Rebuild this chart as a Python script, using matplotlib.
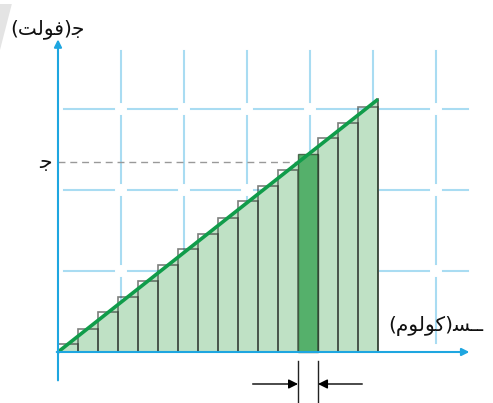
import matplotlib
matplotlib.use("Agg")
import matplotlib.pyplot as plt
from matplotlib.patches import Rectangle, Polygon

plt.rcParams['font.family'] = ['DejaVu Sans']

# --- data (grid units: 1 x-unit = one grid column, 1 y-unit = one grid row) ---
grid_q = [1, 2, 3, 4, 5, 6]
grid_v = [1, 2, 3]
bar_width = 0.3175
bar_heights = [0.10, 0.29, 0.49, 0.68, 0.88, 1.07, 1.27, 1.46,
               1.66, 1.86, 2.05, 2.25, 2.44, 2.64, 2.83, 3.03]
highlight_bar = 12
line_q = [0.0, 5.08]
line_v = [0.0, 3.12]
dashed_v = 2.34

y_label = "(ﺖﻟﻮﻓ)ﺟ"
x_label = "(ﻡﻮﻟﻮﻛ)ﺴــ"
v_tick = "ﺟ"

axis_blue = "#1ea6e0"
grid_blue = "#a9dcf2"
light_green = "#bfe1c5"
dark_green = "#55b06b"
line_green = "#109c4a"
edge_col = (0.15, 0.17, 0.15, 0.6)

fig = plt.figure(figsize=(4.93, 4.03), dpi=100)
ax = fig.add_axes([0, 0, 1, 1])
ax.set_xlim(-0.9206, 6.905)
ax.set_ylim(-0.6296, 4.3457)
ax.axis('off')

# faint grey corner mark
fig.patches.append(Polygon([(0, 0.99), (0.024, 0.99), (0, 0.876)], closed=True,
                           transform=fig.transFigure, facecolor="#e4e4e4",
                           edgecolor='none'))

# broken grid lines
gx, gy = 0.115, 0.088
for v in grid_v:
    starts = [0.095] + [q + gx for q in grid_q]
    ends = [q - gx for q in grid_q] + [6.51]
    for a, b in zip(starts, ends):
        ax.plot([a, b], [v, v], color=grid_blue, lw=1.5, zorder=1)
for q in grid_q:
    edges = [0.11] + grid_v + [3.716]
    for i in range(len(edges) - 1):
        a = edges[i] + (gy if i > 0 else 0)
        b = edges[i + 1] - (gy if i < len(edges) - 2 else 0)
        ax.plot([q, q], [a, b], color=grid_blue, lw=1.5, zorder=1)

# area under the line
q_end = len(bar_heights) * bar_width
ax.add_patch(Polygon([(0, 0), (q_end, 0), (q_end, line_v[1])], closed=True,
                     facecolor=light_green, edgecolor='none', zorder=2))

# strips
for k, h in enumerate(bar_heights):
    left = k * bar_width
    if k == highlight_bar:
        ax.add_patch(Rectangle((left, 0), bar_width, h, facecolor=dark_green,
                               edgecolor=(0.2, 0.3, 0.2, 0.8), lw=1.0, zorder=3))
    else:
        ax.add_patch(Rectangle((left, 0), bar_width, h, facecolor='none',
                               edgecolor=edge_col, lw=1.2, zorder=3))
ax.plot([q_end, q_end], [0, line_v[1]], color=(0.15, 0.2, 0.15, 0.8), lw=1.2, zorder=3)

# the straight line
ax.plot(line_q, line_v, color=line_green, lw=2.6, solid_capstyle='butt', zorder=5)

# dashed level line
ax.plot([0, highlight_bar * bar_width], [dashed_v, dashed_v], color="#999999",
        lw=1.0, dashes=(5, 3.5), zorder=2)

# axes with arrows
ax.annotate('', xy=(0, 3.86), xytext=(0, -0.35),
            arrowprops=dict(arrowstyle='-|>', color=axis_blue, lw=1.5,
                            mutation_scale=11, shrinkA=0, shrinkB=0), zorder=6)
ax.annotate('', xy=(6.53, 0), xytext=(-0.02, 0),
            arrowprops=dict(arrowstyle='-|>', color=axis_blue, lw=1.5,
                            mutation_scale=11, shrinkA=0, shrinkB=0), zorder=6)

# width marker under the highlighted strip
ql = highlight_bar * bar_width
qr = ql + bar_width
for q in (ql, qr):
    ax.plot([q, q], [-0.11, -0.64], color="#222222", lw=1.0, clip_on=False)
ax.annotate('', xy=(ql, -0.395), xytext=(3.09, -0.395),
            arrowprops=dict(arrowstyle='-|>', color='black', lw=1.0,
                            mutation_scale=14, shrinkA=0, shrinkB=0))
ax.annotate('', xy=(qr, -0.395), xytext=(4.83, -0.395),
            arrowprops=dict(arrowstyle='-|>', color='black', lw=1.0,
                            mutation_scale=14, shrinkA=0, shrinkB=0))

# labels
ax.text(-0.16, 3.99, y_label, fontsize=14.5, ha='center', va='center', color='#111111')
ax.text(5.99, 0.32, x_label, fontsize=14.5, ha='center', va='center', color='#111111')
ax.text(-0.2, dashed_v, v_tick, fontsize=14.5, ha='center', va='center', color='#111111')

fig.savefig("out.png", dpi=100)
